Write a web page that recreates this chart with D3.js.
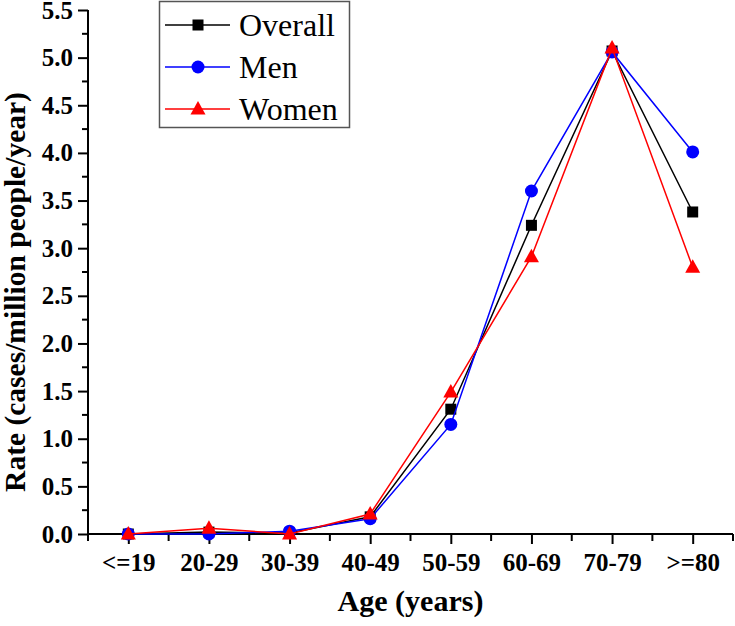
<!DOCTYPE html>
<html>
<head>
<meta charset="utf-8">
<script src="https://cdn.jsdelivr.net/npm/d3@7"></script>
<style>
  html, body { margin: 0; padding: 0; background: #fff; }
  svg { display: block; }
</style>
</head>
<body>
<svg id="chart" width="735" height="626"></svg>
<script>
const categories = ["<=19", "20-29", "30-39", "40-49", "50-59", "60-69", "70-79", ">=80"];
const overall = [0.00, 0.02, 0.01, 0.18, 1.31, 3.24, 5.07, 3.38];
const men     = [0.00, 0.00, 0.03, 0.16, 1.15, 3.60, 5.06, 4.01];
const women   = [0.00, 0.06, 0.00, 0.21, 1.49, 2.91, 5.10, 2.80];
const seriesNames = ["Overall", "Men", "Women"];
const yTicks = [0, 0.5, 1.0, 1.5, 2.0, 2.5, 3.0, 3.5, 4.0, 4.5, 5.0, 5.5];

const series = [
  { name: seriesNames[0], values: overall, color: "#000000", shape: "square" },
  { name: seriesNames[1], values: men, color: "#0000ff", shape: "circle" },
  { name: seriesNames[2], values: women, color: "#ff0000", shape: "triangle" }
];

const FONT = "Liberation Serif";
const svg = d3.select("#chart");
const x0 = 88, x1 = 733, yTop = 10, yBot = 534;

const x = d3.scalePoint().domain(categories).range([x0, x1]).padding(0.5);
const y = d3.scaleLinear().domain([0, 5.5]).range([yBot, yTop]);
const step = x.step();

// Y axis
const yAxis = d3.axisLeft(y).tickValues(yTicks).tickFormat(d3.format(".1f")).tickSize(10).tickPadding(5);
const gy = svg.append("g").attr("transform", `translate(${x0},0)`).call(yAxis);
gy.select(".domain").attr("stroke", "#000").attr("stroke-width", 2).attr("d", `M0,${yBot}V${yTop}`);
gy.selectAll(".tick line").attr("stroke-width", 2);
gy.selectAll(".tick text").attr("font-family", FONT).attr("font-size", 25).attr("font-weight", "bold").attr("fill", "#000");
const yMinor = d3.range(0.25, 5.5, 0.5);
svg.append("g").selectAll("line").data(yMinor).join("line")
  .attr("x1", x0 - 6).attr("x2", x0).attr("y1", d => y(d)).attr("y2", d => y(d))
  .attr("stroke", "#000").attr("stroke-width", 2);

// X axis
const xAxis = d3.axisBottom(x).tickSize(10).tickPadding(9);
const gx = svg.append("g").attr("transform", `translate(0,${yBot})`).call(xAxis);
gx.select(".domain").attr("stroke", "#000").attr("stroke-width", 2).attr("d", `M${x0 - 1},0H${x1}`);
gx.selectAll(".tick line").attr("stroke-width", 2);
gx.selectAll(".tick text").attr("font-family", FONT).attr("font-size", 25).attr("font-weight", "bold").attr("fill", "#000");
const xMinor = d3.range(categories.length + 1).map(i => x0 + i * step);
svg.append("g").selectAll("line").data(xMinor).join("line")
  .attr("x1", d => d).attr("x2", d => d).attr("y1", yBot).attr("y2", yBot + 7)
  .attr("stroke", "#000").attr("stroke-width", 2);

// Axis titles
svg.append("text").attr("x", (x0 + x1) / 2).attr("y", 611).attr("text-anchor", "middle")
  .attr("font-family", FONT).attr("font-size", 30).attr("font-weight", "bold").text("Age (years)");
svg.append("text").attr("transform", `translate(25,${292}) rotate(-90)`)
  .attr("font-family", FONT).attr("text-anchor", "middle").attr("font-size", 29.5).attr("font-weight", "bold")
  .text("Rate (cases/million people/year)");

function drawMarker(g, shape, color, cx, cy) {
  if (shape === "square") {
    g.append("rect").attr("x", cx - 5.5).attr("y", cy - 5.5).attr("width", 11).attr("height", 11).attr("fill", color);
  } else if (shape === "circle") {
    g.append("circle").attr("cx", cx).attr("cy", cy).attr("r", 6.5).attr("fill", color);
  } else {
    g.append("path").attr("d", `M${cx},${cy - 8}L${cx + 7.5},${cy + 5.5}L${cx - 7.5},${cy + 5.5}Z`).attr("fill", color);
  }
}

const line = d3.line().x((d, i) => x(categories[i])).y(d => y(d));
series.forEach(s => {
  const g = svg.append("g");
  g.append("path").datum(s.values).attr("d", line).attr("fill", "none")
    .attr("stroke", s.color).attr("stroke-width", 1.5);
  s.values.forEach((v, i) => drawMarker(g, s.shape, s.color, x(categories[i]), y(v)));
});

// Legend
const lg = svg.append("g");
lg.append("rect").attr("x", 159.5).attr("y", 1.5).attr("width", 190).attr("height", 126)
  .attr("fill", "#fff").attr("stroke", "#555").attr("stroke-width", 1.5);
series.forEach((s, i) => {
  const ly = 25 + i * 42;
  lg.append("line").attr("x1", 165).attr("x2", 230).attr("y1", ly).attr("y2", ly)
    .attr("stroke", s.color).attr("stroke-width", 1.5);
  drawMarker(lg, s.shape, s.color, 198, ly);
  lg.append("text").attr("x", 239).attr("y", ly + 11).attr("font-family", FONT).attr("font-size", 32).attr("fill", "#000").text(s.name);
});
</script>
</body>
</html>
